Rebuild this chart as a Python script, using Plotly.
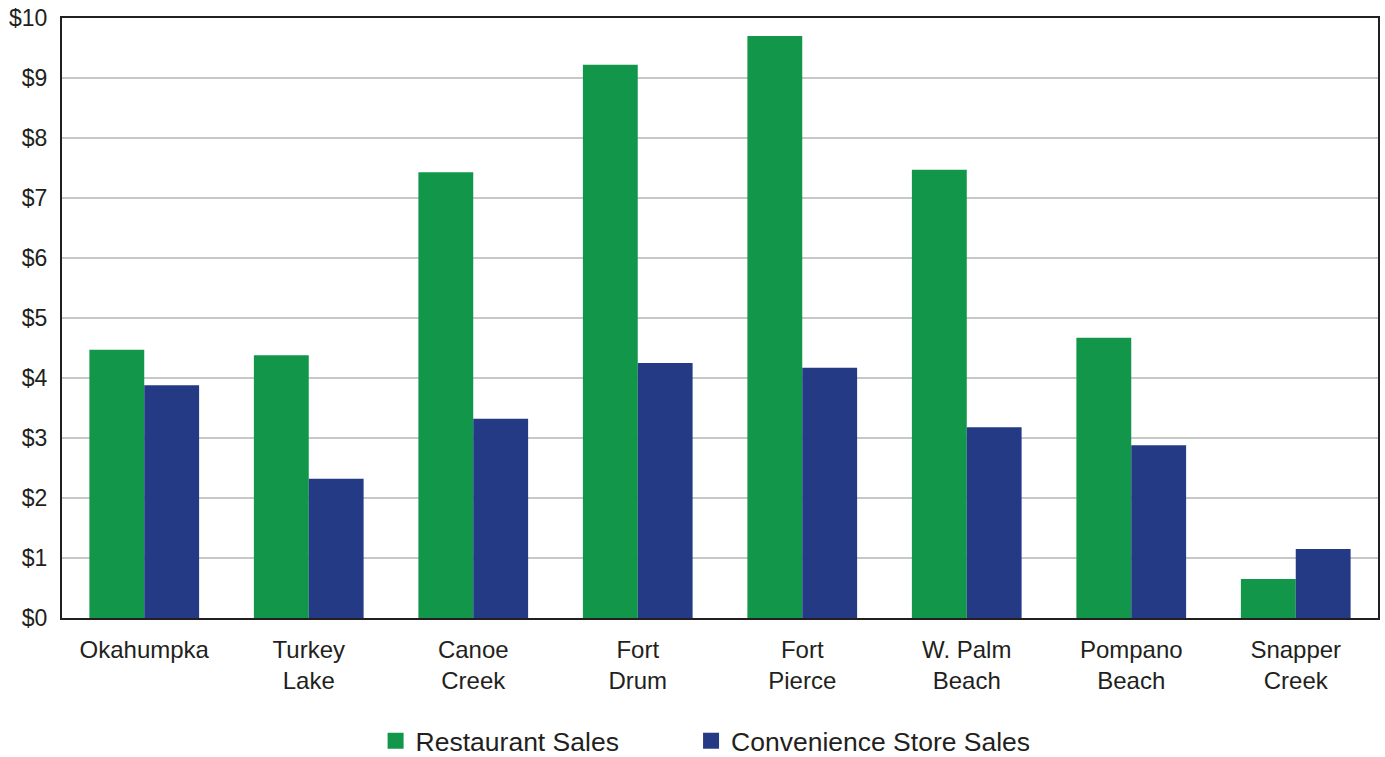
import plotly.graph_objects as go

categories = ["Okahumpka", "Turkey<br>Lake", "Canoe<br>Creek", "Fort<br>Drum", "Fort<br>Pierce",
              "W. Palm<br>Beach", "Pompano<br>Beach", "Snapper<br>Creek"]
restaurant_sales = [4.47, 4.38, 7.43, 9.22, 9.70, 7.47, 4.67, 0.65]
convenience_sales = [3.88, 2.32, 3.32, 4.25, 4.17, 3.18, 2.88, 1.15]
tick_vals = list(range(0, 11))
tick_text = ["$" + str(v) for v in tick_vals]
green = "#12964A"
blue = "#243A84"

fig = go.Figure()
fig.add_trace(go.Bar(x=categories, y=restaurant_sales, name="Restaurant Sales",
                     marker=dict(color=green, line=dict(width=0)), showlegend=False))
fig.add_trace(go.Bar(x=categories, y=convenience_sales, name="Convenience Store Sales",
                     marker=dict(color=blue, line=dict(width=0)), showlegend=False))
# legend-only entries with square symbols
fig.add_trace(go.Scatter(x=[None], y=[None], mode="markers", name="Restaurant Sales",
                         marker=dict(symbol="square", size=17, color=green), legend="legend"))
fig.add_trace(go.Scatter(x=[None], y=[None], mode="markers", name="Convenience Store Sales",
                         marker=dict(symbol="square", size=17, color=blue), legend="legend2"))

leg_common = dict(orientation="h", y=-0.205, yanchor="middle", xanchor="left",
                  font=dict(size=26.5), itemwidth=30, bgcolor="rgba(0,0,0,0)",
                  maxheight=200)

fig.update_layout(
    width=1385, height=757,
    margin=dict(l=62, r=7, t=18, b=139, autoexpand=False),
    paper_bgcolor="white", plot_bgcolor="white",
    font=dict(family="Liberation Sans, Arial, sans-serif", size=23, color="#231F20"),
    barmode="group", bargap=0.333, bargroupgap=0,
    showlegend=True,
    legend=dict(x=0.2383, **leg_common),
    legend2=dict(x=0.4780, **leg_common),
    xaxis=dict(showline=True, linecolor="#231F20", linewidth=2, mirror=True,
               ticks="", tickfont=dict(size=24), showgrid=False, automargin=False,
               ticklabelstandoff=9),
    yaxis=dict(range=[0, 10], tickvals=tick_vals, ticktext=tick_text,
               showline=True, linecolor="#231F20", linewidth=2, mirror=True,
               showgrid=True, gridcolor="#C8C8C8", gridwidth=1.5, ticks="",
               tickfont=dict(size=23), zeroline=False, automargin=False,
               ticklabelstandoff=8),
)
fig.write_html("out.html")
